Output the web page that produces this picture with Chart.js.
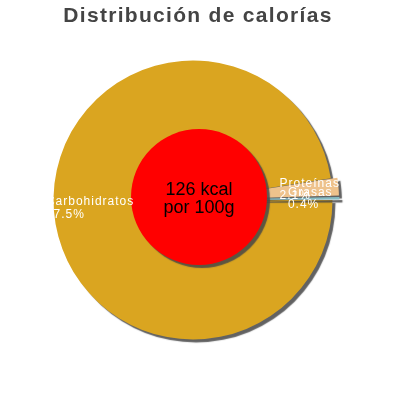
<!DOCTYPE html>
<html>
<head>
<meta charset="utf-8">
<script src="https://cdn.jsdelivr.net/npm/chart.js@4.4.1/dist/chart.umd.min.js"></script>
<style>
  html, body { margin: 0; padding: 0; background: #fff; }
</style>
</head>
<body>
<canvas id="chart" width="400" height="400"></canvas>
<script>
const categories = ["Carbohidratos", "Proteínas", "Grasas"];
const percentages = [97.5, 2.1, 0.4];
const centerLines = ["126 kcal", "por 100g"];
const chartTitle = "Distribución de calorías";

// el titulo va un poco espaciado y centrado en el lienzo
const titleSpacing = {
  id: "titleSpacing",
  beforeDraw(chart) {
    const ctx = chart.ctx;
    ctx.save();
    ctx.translate(5, 0);
    ctx.letterSpacing = "1.3px";
  },
};

// sombra gris bajo las porciones
const shadowPlugin = {
  id: "shadow",
  beforeDatasetsDraw(chart) {
    const ctx = chart.ctx;
    ctx.restore();
    ctx.save();
    ctx.shadowColor = "rgba(70,70,70,0.85)";
    ctx.shadowOffsetX = 3;
    ctx.shadowOffsetY = 3;
    ctx.shadowBlur = 1;
  },
  afterDatasetsDraw(chart) {
    chart.ctx.restore();
  },
};

// circulo rojo central + etiquetas
const overlayPlugin = {
  id: "overlay",
  afterDatasetsDraw(chart) {
    const ctx = chart.ctx;
    const arcs = chart.getDatasetMeta(0).data;
    const cx = arcs[0].x + 6;
    const cy = arcs[0].y - 3;

    ctx.save();
    ctx.shadowColor = "rgba(70,70,70,0.85)";
    ctx.shadowOffsetX = 3;
    ctx.shadowOffsetY = 3;
    ctx.shadowBlur = 1;
    ctx.fillStyle = "#ff0000";
    ctx.beginPath();
    ctx.arc(cx, cy, 68, 0, Math.PI * 2);
    ctx.fill();
    ctx.restore();

    ctx.save();
    ctx.fillStyle = "#000";
    ctx.font = "18px 'Liberation Sans', Arial, sans-serif";
    ctx.textAlign = "center";
    ctx.textBaseline = "middle";
    ctx.fillText(centerLines[0], cx, cy - 7);
    ctx.fillText(centerLines[1], cx, cy + 11);
    ctx.restore();

    ctx.save();
    ctx.fillStyle = "#fff";
    ctx.font = "12px 'Liberation Sans', Arial, sans-serif";
    ctx.letterSpacing = "1px";
    ctx.textAlign = "left";
    ctx.textBaseline = "middle";
    const offsets = chart.data.datasets[0].offset;
    arcs.forEach((arc, i) => {
      const p = arc.getProps(["x", "y", "startAngle", "endAngle", "outerRadius"]);
      const mid = (p.startAngle + p.endAngle) / 2;
      const r = p.outerRadius * 0.74 + offsets[i];
      const x = p.x + Math.cos(mid) * r;
      const y = p.y + Math.sin(mid) * r;
      const left = x - ctx.measureText(categories[i]).width / 2;
      ctx.fillText(categories[i], left, y - 6);
      ctx.fillText(percentages[i] + "%", left, y + 6.5);
    });
    ctx.restore();
  },
};

new Chart(document.getElementById("chart"), {
  type: "pie",
  data: {
    labels: categories,
    datasets: [{
      data: percentages,
      backgroundColor: ["#DAA520", "#EEC28C", "#86BCC3"],
      borderWidth: 0,
      offset: [0, 14, 14],
      radius: 139.5,
    }],
  },
  options: {
    responsive: false,
    animation: false,
    rotation: 90,
    layout: { padding: { left: 0, right: 14, top: 0, bottom: 50 } },
    plugins: {
      legend: { display: false },
      tooltip: { enabled: false },
      title: {
        display: true,
        text: chartTitle,
        color: "#444",
        font: { family: "'Liberation Sans', Arial, sans-serif", size: 21, weight: "bold" },
        padding: { top: 4, bottom: 20.8 },
      },
    },
  },
  plugins: [titleSpacing, shadowPlugin, overlayPlugin],
});
</script>
</body>
</html>
